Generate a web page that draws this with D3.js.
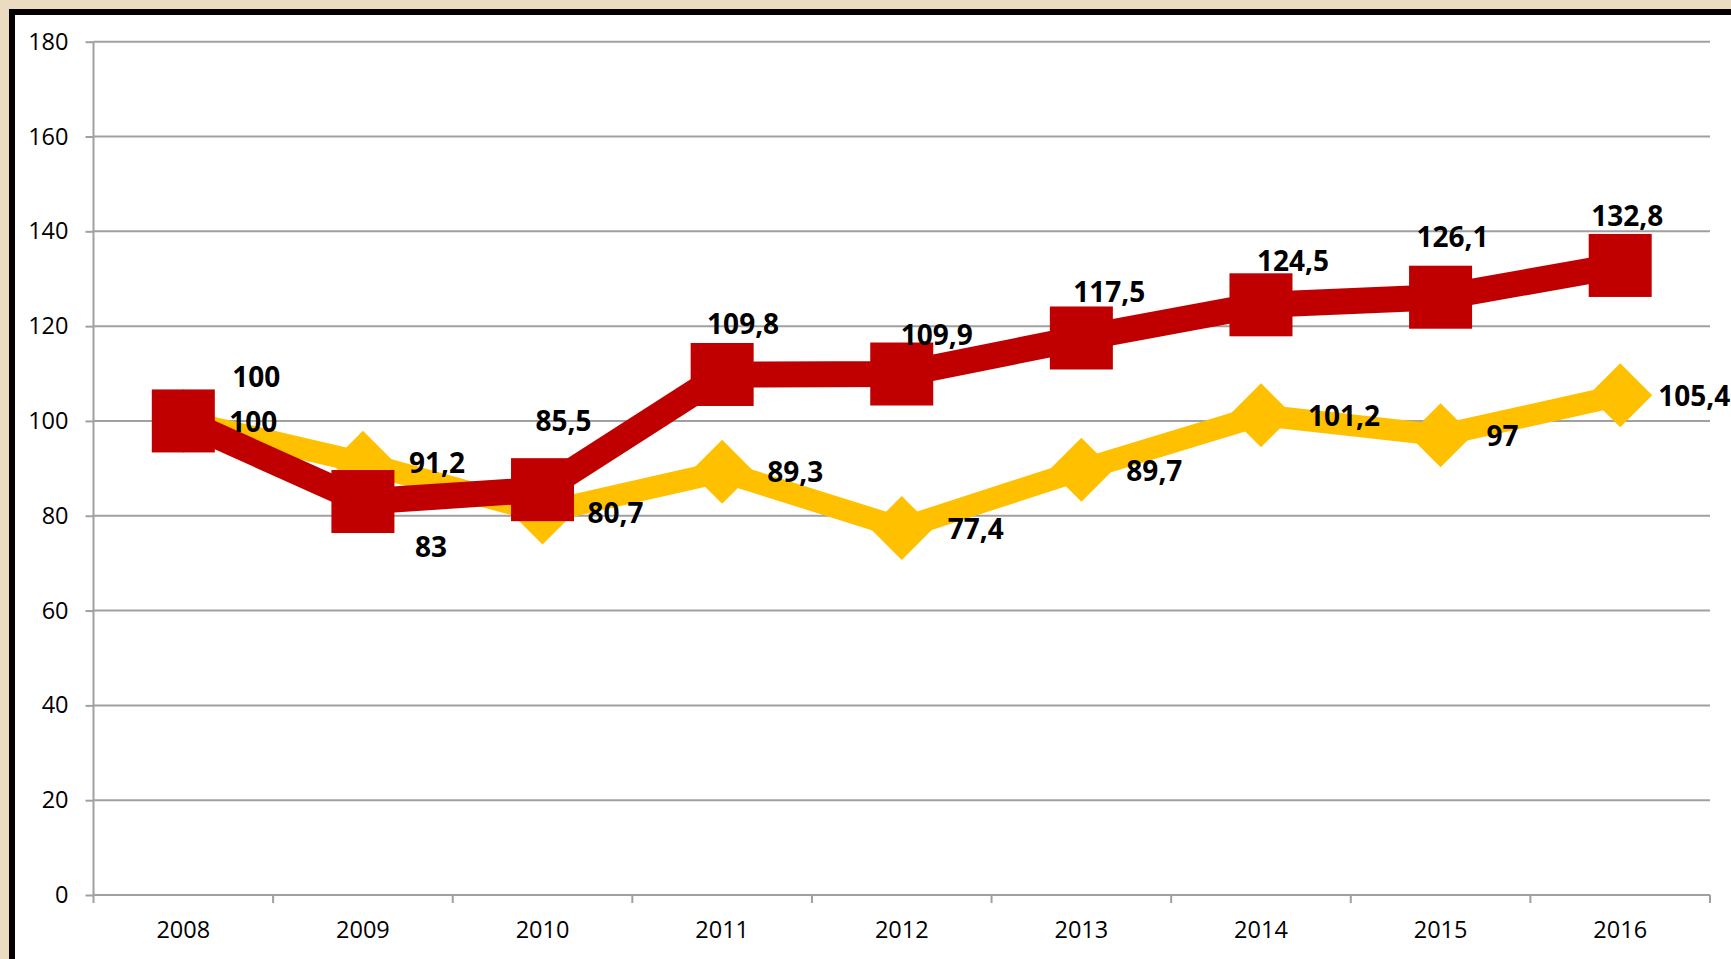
<!DOCTYPE html>
<html>
<head>
<meta charset="utf-8">
<script src="https://cdn.jsdelivr.net/npm/d3@7"></script>
<style>
  html, body { margin: 0; padding: 0; background: #ebdbc0; overflow: hidden; }
  svg { display: block; }
  .tick text { font-family: "Open Sans", sans-serif; font-size: 23.5px; fill: #000; }
  .lbl { font-family: "Open Sans", sans-serif; font-size: 28px; font-weight: bold; fill: #000; }
</style>
</head>
<body>
<svg id="chart" width="1731" height="959"></svg>
<script>
const years = ["2008", "2009", "2010", "2011", "2012", "2013", "2014", "2015", "2016"];
const redValues = [100, 83, 85.5, 109.8, 109.9, 117.5, 124.5, 126.1, 132.8];
const yellowValues = [100, 91.2, 80.7, 89.3, 77.4, 89.7, 101.2, 97, 105.4];
const yTicks = [0, 20, 40, 60, 80, 100, 120, 140, 160, 180];

// label nudges (px)
const redLabelDx = [73, 68, 21, 21, 35, 28, 32, 12, 7];
const redLabelDy = [-44, 46, -68, -50, -39, -46, -44, -60, -49];
const yellowLabelDx = [46, 46, 45, 45, 46, 45, 47, 46, 38];

const fmt = v => String(v).replace(".", ",");

const svg = d3.select("#chart");

// frame
svg.append("rect").attr("x", 12).attr("y", 12).attr("width", 1760).attr("height", 1000)
  .attr("fill", "#fff").attr("stroke", "#000").attr("stroke-width", 6);

const plotLeft = 93.5, plotRight = 1710, plotTop = 41.7, plotBottom = 895;

const x = d3.scaleBand().domain(years).range([plotLeft, plotRight]);
const y = d3.scaleLinear().domain([0, 180]).range([plotBottom, plotTop]);

// grid
svg.append("g").selectAll("line").data(yTicks.filter(d => d > 0)).enter().append("line")
  .attr("x1", plotLeft).attr("x2", plotRight)
  .attr("y1", d => y(d)).attr("y2", d => y(d))
  .attr("stroke", "#a0a0a0").attr("stroke-width", 2);

// y axis
const yAxis = svg.append("g").attr("transform", `translate(${plotLeft},0)`)
  .call(d3.axisLeft(y).tickValues(yTicks).tickSize(8).tickPadding(17));
yAxis.selectAll("line, path").attr("stroke", "#a0a0a0").attr("stroke-width", 2);
yAxis.select(".domain").attr("d", `M0,${plotTop}V${plotBottom}`);

// x axis with ticks between categories
const xAxis = svg.append("g").attr("transform", `translate(0,${plotBottom})`)
  .call(d3.axisBottom(x).tickSize(0).tickPadding(26));
xAxis.select(".domain").attr("d", `M${plotLeft},0H${plotRight}`).attr("stroke", "#a0a0a0").attr("stroke-width", 2);
xAxis.append("g").selectAll("line").data(years.map(d => x(d)).concat([plotRight])).enter().append("line")
  .attr("x1", d => d).attr("x2", d => d).attr("y1", 0).attr("y2", 8)
  .attr("stroke", "#a0a0a0").attr("stroke-width", 2);

const cx = (d, i) => x(years[i]) + x.bandwidth() / 2;

const line = d3.line().x((d, i) => cx(d, i)).y(d => y(d)).curve(d3.curveLinear);

// yellow series
svg.append("path").datum(yellowValues).attr("d", line)
  .attr("fill", "none").attr("stroke", "#ffc000").attr("stroke-width", 22).attr("stroke-linejoin", "miter");
svg.append("g").selectAll("path").data(yellowValues).enter().append("path")
  .attr("transform", (d, i) => `translate(${cx(d, i)},${y(d)})`)
  .attr("d", "M0,-32L32,0L0,32L-32,0Z").attr("fill", "#ffc000");

// red series
svg.append("path").datum(redValues).attr("d", line)
  .attr("fill", "none").attr("stroke", "#c00000").attr("stroke-width", 26).attr("stroke-linejoin", "miter");
svg.append("g").selectAll("rect").data(redValues).enter().append("rect")
  .attr("x", (d, i) => cx(d, i) - 31.5).attr("y", d => y(d) - 31.5)
  .attr("width", 63).attr("height", 63).attr("fill", "#c00000");

// labels
svg.append("g").selectAll("text").data(yellowValues).enter().append("text")
  .attr("class", "lbl")
  .attr("x", (d, i) => cx(d, i) + yellowLabelDx[i]).attr("y", d => y(d) + 1)
  .attr("dy", "0.35em").attr("text-anchor", "start")
  .text(d => fmt(d));

svg.append("g").selectAll("text").data(redValues).enter().append("text")
  .attr("class", "lbl")
  .attr("x", (d, i) => cx(d, i) + redLabelDx[i]).attr("y", (d, i) => y(d) + redLabelDy[i])
  .attr("dy", "0.35em").attr("text-anchor", "middle")
  .text(d => fmt(d));
</script>
</body>
</html>
